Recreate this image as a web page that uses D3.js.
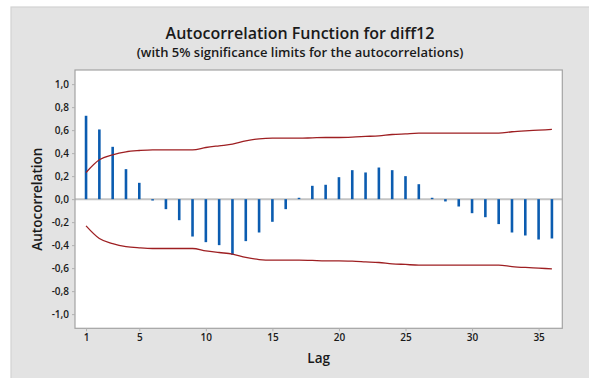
<!DOCTYPE html>
<html>
<head>
<meta charset="utf-8">
<script src="https://cdn.jsdelivr.net/npm/d3@7/dist/d3.min.js"></script>
<style>
  html, body { margin: 0; padding: 0; background: #ffffff; }
  svg { display: block; }
  text { font-family: "Open Sans", "Noto Sans", sans-serif; fill: #1a1a1a; }
</style>
</head>
<body>
<svg id="chart" width="589" height="378"></svg>
<script>
// ---- data ----
const lags = [1,2,3,4,5,6,7,8,9,10,11,12,13,14,15,16,17,18,19,20,21,22,23,24,25,26,27,28,29,30,31,32,33,34,35,36];
const acf = [0.725,0.606,0.455,0.261,0.142,-0.012,-0.087,-0.183,-0.325,-0.374,-0.400,-0.484,-0.365,-0.290,-0.197,-0.087,0.012,0.116,0.125,0.191,0.252,0.232,0.275,0.252,0.200,0.130,0.012,-0.020,-0.064,-0.122,-0.157,-0.217,-0.290,-0.316,-0.351,-0.342];
const upperLimit = [0.232,0.342,0.386,0.412,0.423,0.429,0.429,0.429,0.429,0.449,0.464,0.478,0.507,0.525,0.530,0.530,0.530,0.533,0.536,0.536,0.539,0.545,0.551,0.562,0.568,0.574,0.574,0.574,0.574,0.574,0.574,0.574,0.586,0.594,0.600,0.606];
const lowerLimit = [-0.232,-0.342,-0.386,-0.412,-0.423,-0.429,-0.429,-0.429,-0.429,-0.449,-0.464,-0.478,-0.507,-0.525,-0.530,-0.530,-0.530,-0.533,-0.536,-0.536,-0.539,-0.545,-0.551,-0.562,-0.568,-0.574,-0.574,-0.574,-0.574,-0.574,-0.574,-0.574,-0.586,-0.594,-0.600,-0.606];
const xTicks = [1,5,10,15,20,25,30,35];
const yTicks = [1.0,0.8,0.6,0.4,0.2,0.0,-0.2,-0.4,-0.6,-0.8,-1.0];
const yTickLabels = ["1,0","0,8","0,6","0,4","0,2","0,0","-0,2","-0,4","-0,6","-0,8","-1,0"];
const title = "Autocorrelation Function for diff12";
const subtitle = "(with 5% significance limits for the autocorrelations)";
const xLabel = "Lag";
const yLabel = "Autocorrelation";

// ---- layout ----
const svg = d3.select("#chart");
const plot = { x: 75, y: 70, w: 487.3, h: 258.3 };

svg.append("rect").attr("x", 11).attr("y", 7).attr("width", 600).attr("height", 400)
  .attr("fill", "#e3e3e3").attr("stroke", "#d2d2d2").attr("stroke-width", 1.2);

const x = d3.scaleLinear().domain([0.17, 36.78]).range([plot.x, plot.x + plot.w]);
const y = d3.scaleLinear().domain([-1.123, 1.123]).range([plot.y + plot.h, plot.y]);

svg.append("rect").attr("x", plot.x).attr("y", plot.y).attr("width", plot.w).attr("height", plot.h)
  .attr("fill", "#ffffff");

// zero line
svg.append("line")
  .attr("x1", plot.x).attr("x2", plot.x + plot.w)
  .attr("y1", y(0)).attr("y2", y(0))
  .attr("stroke", "#c4c4c4").attr("stroke-width", 2);

// bars
svg.append("g").selectAll("line").data(lags).join("line")
  .attr("x1", d => x(d)).attr("x2", d => x(d))
  .attr("y1", y(0)).attr("y2", (d, i) => y(acf[i]))
  .attr("stroke", "#0b5cb0").attr("stroke-width", 2.6);

// significance limits
const line = d3.line().x(d => x(d[0])).y(d => y(d[1])).curve(d3.curveMonotoneX);
svg.append("path").datum(lags.map((l, i) => [l, upperLimit[i]]))
  .attr("d", line).attr("fill", "none").attr("stroke", "#9e1f22").attr("stroke-width", 1.3);
svg.append("path").datum(lags.map((l, i) => [l, lowerLimit[i]]))
  .attr("d", line).attr("fill", "none").attr("stroke", "#9e1f22").attr("stroke-width", 1.3);

// border
svg.append("rect").attr("x", plot.x).attr("y", plot.y).attr("width", plot.w).attr("height", plot.h)
  .attr("fill", "none").attr("stroke", "#a3a3a3").attr("stroke-width", 1.2);

// axes
const yAxis = d3.axisLeft(y).tickValues(yTicks).tickSize(3).tickPadding(3)
  .tickFormat((d, i) => yTickLabels[i]);
const gy = svg.append("g").attr("transform", `translate(${plot.x},0)`).call(yAxis);
gy.select(".domain").remove();
gy.selectAll(".tick line").attr("stroke", "#b0b0b0");
gy.selectAll(".tick text").attr("font-size", 10).attr("font-weight", 600)
  .style("font-family", '"Open Sans", sans-serif').attr("fill", "#1a1a1a");

const xAxis = d3.axisBottom(x).tickValues(xTicks).tickSize(3).tickPadding(3).tickFormat(d3.format("d"));
const gx = svg.append("g").attr("transform", `translate(0,${plot.y + plot.h})`).call(xAxis);
gx.select(".domain").remove();
gx.selectAll(".tick line").attr("stroke", "#b0b0b0");
gx.selectAll(".tick text").attr("font-size", 10).attr("font-weight", 600)
  .style("font-family", '"Open Sans", sans-serif').attr("fill", "#1a1a1a");

// titles
svg.append("text").attr("x", 300).attr("y", 38.5).attr("text-anchor", "middle")
  .attr("font-size", 16).attr("font-weight", 600).text(title);
svg.append("text").attr("x", 300).attr("y", 57).attr("text-anchor", "middle")
  .attr("font-size", 13).attr("font-weight", 600).text(subtitle);
svg.append("text").attr("x", plot.x + plot.w / 2).attr("y", 362.5).attr("text-anchor", "middle")
  .attr("font-size", 13.5).attr("font-weight", 600).text(xLabel);
svg.append("text").attr("transform", `translate(42,${plot.y + plot.h / 2}) rotate(-90)`)
  .attr("text-anchor", "middle").attr("font-size", 13.5).attr("font-weight", 600).text(yLabel);
</script>
</body>
</html>
